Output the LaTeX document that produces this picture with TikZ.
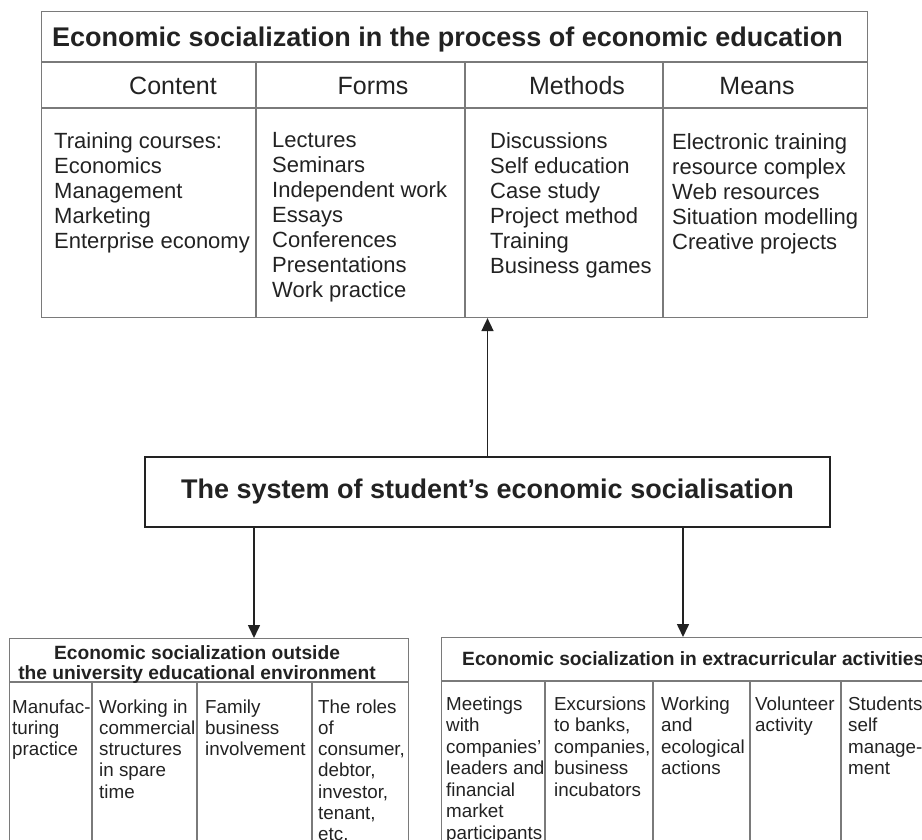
\documentclass[tikz,border=0pt]{standalone}
\usepackage{fontspec}
\setmainfont{Liberation Sans}
\usetikzlibrary{arrows.meta}
\definecolor{ink}{HTML}{222222}
\definecolor{frame}{HTML}{7A7A7A}
\begin{document}
\begin{tikzpicture}[x=1pt,y=-1pt,
  thinbox/.style={draw=frame, line width=1.1pt, inner sep=0pt, anchor=north west},
  thickbox/.style={draw=ink, line width=2pt, inner sep=0pt, anchor=north west},
  divider/.style={draw=frame, line width=1.1pt},
  arr/.style={draw=ink, line width=1.6pt, -{Triangle[width=12pt,length=13pt]}},
  titletxt/.style={inner sep=0pt, text=ink, font=\fontsize{27}{30}\selectfont\bfseries},
  headtxt/.style={anchor=base, inner sep=0pt, text=ink, font=\fontsize{25}{28}\selectfont},
  bodytxt/.style={anchor=north west, inner sep=0pt, align=left, text=ink, font=\fontsize{22}{25}\selectfont},
  subtitle/.style={inner sep=0pt, text=ink, font=\fontsize{19.2}{20}\selectfont\bfseries},
  smalltxt/.style={anchor=north west, inner sep=0pt, align=left, text=ink, font=\fontsize{18.8}{21.2}\selectfont},
  smalltxtb/.style={anchor=north west, inner sep=0pt, align=left, text=ink, font=\fontsize{18.8}{21.5}\selectfont}
]
\useasboundingbox (0,0) rectangle (922,840);
\clip (0,0) rectangle (922,840);

% ---------- top table ----------
\node[thinbox, minimum width=826pt, minimum height=306pt] (top) at (41,11) {};
\draw[divider] (41,62) -- (867,62);
\draw[divider] (41,108) -- (867,108);
\draw[divider] (256,62) -- (256,317);
\draw[divider] (465,62) -- (465,317);
\draw[divider] (663,62) -- (663,317);

\node[titletxt, anchor=base west] (ttitle) at (52,47) {Economic socialization in the process of economic education};
\node[headtxt] (hcontent) at (173,95) {Content};
\node[headtxt] (hforms) at (373,95) {Forms};
\node[headtxt] (hmethods) at (577,95) {Methods};
\node[headtxt] (hmeans) at (757,95) {Means};

\node[bodytxt] (bcontent) at (54,132) {Training courses:\\Economics\\Management\\Marketing\\Enterprise economy};
\node[bodytxt] (bforms) at (272,132) {Lectures\\Seminars\\Independent work\\Essays\\Conferences\\Presentations\\Work practice};
\node[bodytxt] (bmethods) at (490,132) {Discussions\\Self education\\Case study\\Project method\\Training\\Business games};
\node[bodytxt] (bmeans) at (672,133) {Electronic training\\resource complex\\Web resources\\Situation modelling\\Creative projects};

% ---------- middle box ----------
\node[thickbox, minimum width=685pt, minimum height=70pt, titletxt, anchor=north west] (mid) at (144,456) {The system of student’s economic socialisation};
\draw[arr] (mid.north) -- (mid.north |- top.south);

% ---------- bottom left box ----------
\node[thinbox, minimum width=399pt, minimum height=230pt] (lbox) at (9,638) {};
\draw[divider] (9,682) -- (408,682);
\draw[divider] (92,682) -- (92,870);
\draw[divider] (197,682) -- (197,870);
\draw[divider] (312,682) -- (312,870);
\node[subtitle, anchor=north, align=center] (ltitle) at (197,645.5) {Economic socialization outside\\the university educational environment};
\node[smalltxt] (l1) at (12,699.5) {Manufac-\\turing\\practice};
\node[smalltxt] (l2) at (99,699.5) {Working in\\commercial\\structures\\in spare\\time};
\node[smalltxt] (l3) at (205,699.5) {Family\\business\\involvement};
\node[smalltxt] (l4) at (318,699.5) {The roles\\of\\consumer,\\debtor,\\investor,\\tenant,\\etc.};

% ---------- bottom right box ----------
\node[thinbox, minimum width=520pt, minimum height=230pt] (rbox) at (441,637) {};
\draw[divider] (441,681) -- (961,681);
\draw[divider] (545,681) -- (545,870);
\draw[divider] (653,681) -- (653,870);
\draw[divider] (750,681) -- (750,870);
\draw[divider] (841,681) -- (841,870);
\node[subtitle, anchor=base west] (rtitle) at (462,665) {Economic socialization in extracurricular activities};
\node[smalltxtb] (r1) at (446,696.5) {Meetings\\with\\companies'\\leaders and\\financial\\market\\participants};
\node[smalltxtb] (r2) at (554,696.5) {Excursions\\to banks,\\companies,\\business\\incubators};
\node[smalltxtb] (r3) at (661,696.5) {Working\\and\\ecological\\actions};
\node[smalltxtb] (r4) at (755,696.5) {Volunteer\\activity};
\node[smalltxtb] (r5) at (848,696.5) {Students\\self\\manage-\\ment};

% ---------- arrows down ----------
\coordinate (la) at (254,638);
\coordinate (ra) at (683,637);
\draw[arr] (la |- mid.south) -- (la);
\draw[arr] (ra |- mid.south) -- (ra);
\end{tikzpicture}
\end{document}
